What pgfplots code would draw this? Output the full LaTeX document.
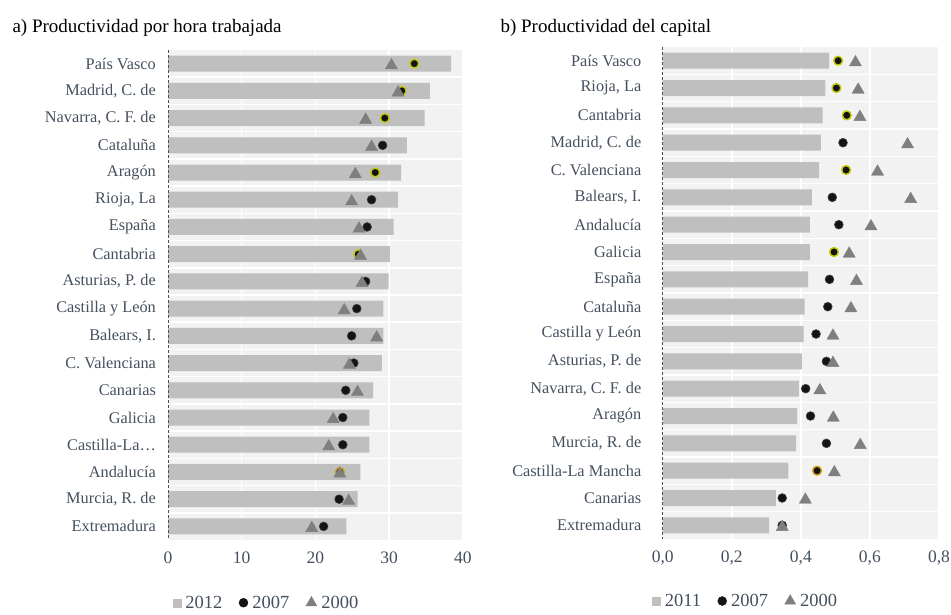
\documentclass[border=0pt]{standalone}
\usepackage{fontspec}
\setmainfont{Liberation Serif}
\usepackage{pgfplots}
\pgfplotsset{compat=1.18}
\usepackage{pgfplotstable}
\definecolor{barc}{HTML}{BFBFBF}
\definecolor{bgc}{HTML}{F2F2F2}
\definecolor{tric}{HTML}{7F7F7F}
\definecolor{txt}{HTML}{44505E}
\definecolor{hly}{HTML}{C4CC00}
\definecolor{hlg}{HTML}{D4A017}
\definecolor{dotc}{HTML}{141414}
\definecolor{dotedge}{HTML}{3A3F48}

\pgfplotstableread{
row bar c07 t00 cls
0 38.4 33.4 30.3 y
1 35.5 31.7 31.2 y
2 34.8 29.4 26.8 y
3 32.4 29.1 27.6 n
4 31.6 28.1 25.4 y
5 31.2 27.6 24.9 n
6 30.6 27.0 25.9 n
7 30.1 25.8 26.1 y
8 29.9 26.8 26.3 n
9 29.2 25.6 23.9 n
10 29.2 24.9 28.3 n
11 29.0 25.2 24.6 n
12 27.8 24.1 25.7 n
13 27.3 23.7 22.4 n
14 27.3 23.7 21.8 n
15 26.1 23.3 23.3 g
16 25.7 23.2 24.5 n
17 24.2 21.1 19.5 n
}\tblA

\pgfplotstableread{
row bar c07 t00 cls
0 0.482 0.508 0.558 y
1 0.471 0.503 0.566 y
2 0.463 0.533 0.571 y
3 0.458 0.522 0.709 n
4 0.453 0.531 0.622 y
5 0.432 0.491 0.718 n
6 0.426 0.510 0.603 n
7 0.426 0.496 0.540 y
8 0.421 0.483 0.561 n
9 0.411 0.478 0.545 n
10 0.408 0.444 0.493 n
11 0.403 0.474 0.493 n
12 0.394 0.414 0.455 n
13 0.389 0.428 0.494 n
14 0.386 0.474 0.572 n
15 0.364 0.447 0.497 g
16 0.328 0.346 0.413 n
17 0.308 0.346 0.346 n
}\tblB

\pgfplotsset{
  panel/.style={
    scale only axis,
    y dir=reverse, ymin=-0.5, ymax=17.5,
    axis background/.style={fill=bgc},
    axis line style={draw=none},
    major tick length=0pt, minor tick length=0pt,
    ytick={0,...,17}, minor ytick={0.5,1.5,...,16.5},
    yminorgrids=true, xmajorgrids=true,
    minor grid style={white, line width=1.5pt},
    major grid style={white, line width=1.5pt},
    tick label style={text=txt},
    yticklabel style={font=\fontsize{16.3}{18}\selectfont, xshift=-8.6pt},
    xticklabel style={font=\fontsize{17.5}{20}\selectfont, yshift=-8pt},
    /pgf/number format/assume math mode=true,
    legend columns=3,
    legend image code/.code={\draw[#1] plot coordinates {(0pt,0pt)};},
    legend style={draw=none, fill=none, anchor=center,
      font=\fontsize{18.5}{20}\selectfont, text=txt,
      nodes={inner sep=0.5pt},
      /tikz/every odd column/.append style={column sep=4pt},
      /tikz/every even column/.append style={column sep=16pt}},
    clip=false,
  },
  dots/.style={scatter, only marks, mark=*, mark size=4.4pt,
    scatter/use mapped color={draw=dotedge, fill=dotc},
    point meta=explicit symbolic,
    scatter/classes={
      n={mark=*, draw=dotedge, fill=dotc, line width=0.6pt},
      y={mark=*, draw=hly, fill=dotc, line width=1.4pt},
      g={mark=*, draw=hlg, fill=dotc, line width=1.4pt}}},
  tris/.style={only marks, mark=triangle*, mark size=7pt,
    color=tric, mark options={yshift=-1.75pt}},
}

\begin{document}
\begin{tikzpicture}
\useasboundingbox (0,0) rectangle (951pt,-614pt);
\node[anchor=base west, font=\fontsize{19}{22}\selectfont] at (9pt,-32pt) {a) Productividad por hora trabajada};
\node[anchor=base west, font=\fontsize{19}{22}\selectfont] at (497pt,-32pt) {b) Productividad del capital};

\begin{axis}[panel,
  at={(168pt,-50pt)}, anchor=north west,
  width=295pt, height=490pt,
  xmin=0, xmax=40, xtick={0,10,20,30,40},
  yticklabels={País Vasco, {Madrid, C. de}, {Navarra, C. F. de}, Cataluña, Aragón, {Rioja, La}, España, Cantabria, {Asturias, P. de}, Castilla y León, {Balears, I.}, C. Valenciana, Canarias, Galicia, Castilla-La…, Andalucía, {Murcia, R. de}, Extremadura},
  legend style={at={(0.332,-0.128)}},
]
\addplot[xbar, bar width=16pt, bar shift=0pt, fill=barc, draw=none, forget plot] table[x=bar, y=row] {\tblA};
\addplot[dots, forget plot] table[x=c07, y=row, meta=cls] {\tblA};
\addplot[tris, forget plot] table[x=t00, y=row] {\tblA};
\draw[txt, line width=1pt, dash pattern=on 3pt off 2pt] (axis cs:0,-0.5) -- (axis cs:0,17.5);
\addlegendimage{only marks, mark=square*, mark size=4pt, color=barc}
\addlegendentry{2012}
\addlegendimage{only marks, mark=*, mark size=4.5pt, color=dotc}
\addlegendentry{2007}
\addlegendimage{only marks, mark=triangle*, mark size=6.3pt, color=tric}
\addlegendentry{2000}
\end{axis}

\begin{axis}[panel,
  at={(662.7pt,-47pt)}, anchor=north west,
  width=276.3pt, height=492pt,
  xmin=0, xmax=0.8, xtick={0,0.2,0.4,0.6,0.8},
  xticklabel style={/pgf/number format/.cd, fixed, fixed zerofill, precision=1, use comma},
  yticklabel style={xshift=-9.3pt},
  yticklabels={País Vasco, {Rioja, La}, Cantabria, {Madrid, C. de}, C. Valenciana, {Balears, I.}, Andalucía, Galicia, España, Cataluña, Castilla y León, {Asturias, P. de}, {Navarra, C. F. de}, Aragón, {Murcia, R. de}, Castilla-La Mancha, Canarias, Extremadura},
  legend style={at={(0.298,-0.126)}},
]
\addplot[xbar, bar width=16pt, bar shift=0pt, fill=barc, draw=none, forget plot] table[x=bar, y=row] {\tblB};
\addplot[dots, forget plot] table[x=c07, y=row, meta=cls] {\tblB};
\addplot[tris, forget plot] table[x=t00, y=row] {\tblB};
\draw[txt, line width=1pt, dash pattern=on 3pt off 2pt] (axis cs:0,-0.5) -- (axis cs:0,17.5);
\addlegendimage{only marks, mark=square*, mark size=4pt, color=barc}
\addlegendentry{2011}
\addlegendimage{only marks, mark=*, mark size=4.5pt, color=dotc}
\addlegendentry{2007}
\addlegendimage{only marks, mark=triangle*, mark size=6.3pt, color=tric}
\addlegendentry{2000}
\end{axis}
\end{tikzpicture}
\end{document}
